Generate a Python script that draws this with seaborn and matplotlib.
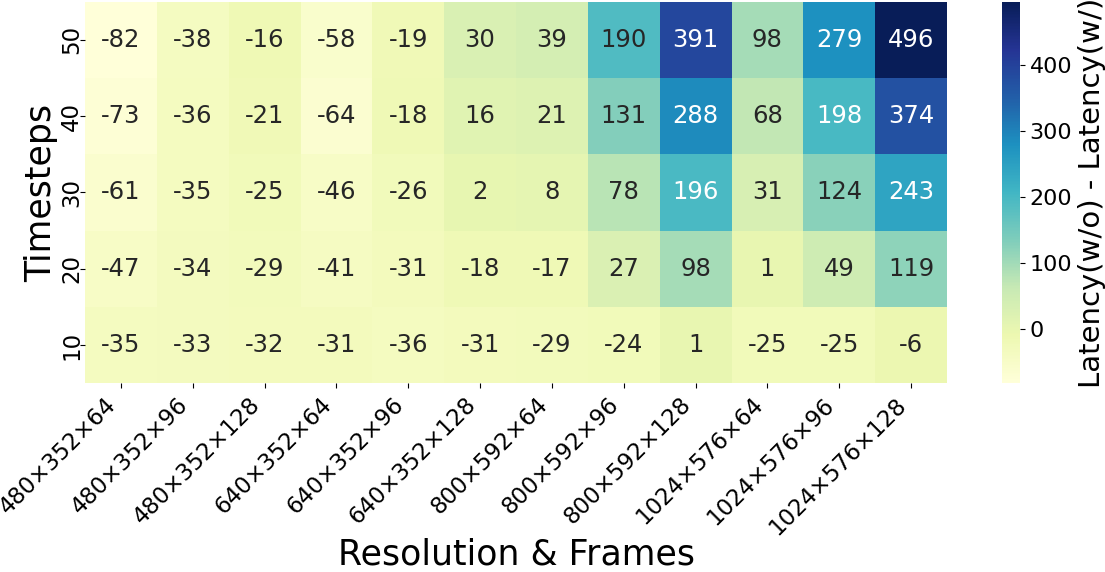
import matplotlib
matplotlib.use("Agg")
import matplotlib.pyplot as plt
import seaborn as sns
import numpy as np
import pandas as pd

resolutions = ["480×352×64", "480×352×96", "480×352×128", "640×352×64", "640×352×96",
               "640×352×128", "800×592×64", "800×592×96", "800×592×128",
               "1024×576×64", "1024×576×96", "1024×576×128"]
timesteps = [50, 40, 30, 20, 10]

t50 = [-82, -38, -16, -58, -19, 30, 39, 190, 391, 98, 279, 496]
t40 = [-73, -36, -21, -64, -18, 16, 21, 131, 288, 68, 198, 374]
t30 = [-61, -35, -25, -46, -26, 2, 8, 78, 196, 31, 124, 243]
t20 = [-47, -34, -29, -41, -31, -18, -17, 27, 98, 1, 49, 119]
t10 = [-35, -33, -32, -31, -36, -31, -29, -24, 1, -25, -25, -6]

df = pd.DataFrame([t50, t40, t30, t20, t10], index=timesteps, columns=resolutions)

fig = plt.figure(figsize=(11.05, 5.72), dpi=100)
ax = fig.add_axes([0.077, 0.33, 0.780, 0.667])
cax = fig.add_axes([0.907, 0.33, 0.016, 0.667])

sns.heatmap(df, ax=ax, cbar_ax=cax, cmap="YlGnBu", annot=True, fmt="d",
            annot_kws={"fontsize": 17.5})

ax.set_xticklabels(resolutions, rotation=45, ha="right", fontsize=16.5)
ax.set_yticklabels(timesteps, rotation=90, fontsize=16.5, va="center")
ax.tick_params(axis="y", pad=-2)
ax.set_xlabel("Resolution & Frames", fontsize=25)
ax.set_ylabel("Timesteps", fontsize=25)
ax.xaxis.set_label_coords(0.5, -0.405)
ax.yaxis.set_label_coords(-0.031, 0.5)
cax.tick_params(labelsize=16)
cax.set_ylabel("Latency(w/o) - Latency(w/)", fontsize=21)

fig.savefig("out.png", dpi=100)
